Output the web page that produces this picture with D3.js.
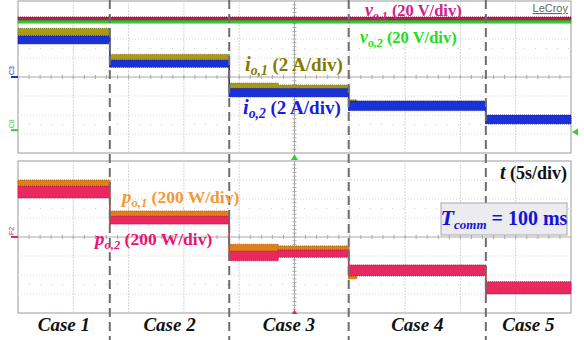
<!DOCTYPE html>
<html>
<head>
<meta charset="utf-8">
<script src="https://cdn.jsdelivr.net/npm/d3@7"></script>
<style>
  body { margin: 0; background: #fff; }
  svg { display: block; }
</style>
</head>
<body>
<svg id="chart" width="584" height="340"></svg>
<script>
// time in seconds (5 s/div, 10 div), levels in screen divisions from the centre line
const caseNames = ["Case 1", "Case 2", "Case 3", "Case 4", "Case 5"];
const caseEdges = [0, 8.3, 19.1, 29.9, 42.3, 50];

// each step: [start time, band low, band high]
const vo1 = [[0, 2.97, 3.16]];
const vo2 = [[0, 2.83, 2.96]];
const io1 = [[0, 2.16, 2.56], [8.3, 0.86, 1.19], [19.1, -0.63, -0.32], [23.5, -0.6, -0.42], [29.9, -1.7, -1.2], [30.6, -1.5, -1.35], [42.3, -2.35, -2.1]];
const io2 = [[0, 1.74, 2.16], [8.3, 0.51, 0.89], [19.1, -1.05, -0.6], [29.9, -1.77, -1.26], [42.3, -2.47, -2.0]];
const po1 = [[0, 2.62, 3.0], [8.3, 1.07, 1.37], [19.1, -0.77, -0.38], [23.5, -0.77, -0.47], [29.9, -2.2, -1.5], [30.6, -1.9, -1.55], [42.3, -2.8, -2.45]];
const po2 = [[0, 2.05, 2.68], [8.3, 0.68, 1.1], [19.1, -1.25, -0.74], [23.5, -1.07, -0.68], [29.9, -2.05, -1.47], [42.3, -3.0, -2.35]];

const SERIF = '"Liberation Serif", "Times New Roman", serif';
const SANS = '"Liberation Sans", Arial, sans-serif';

const svg = d3.select("#chart");
const x = d3.scaleLinear().domain([0, 50]).range([18, 571]);
const yTop = d3.scaleLinear().domain([-4, 4]).range([153, 1]);
const yBot = d3.scaleLinear().domain([-4, 4]).range([313, 161]);

function drawPanel(y) {
  const g = svg.append("g");
  g.append("rect")
    .attr("x", x(0)).attr("y", y(4))
    .attr("width", x(50) - x(0)).attr("height", y(-4) - y(4))
    .attr("fill", "#fff").attr("stroke", "#9a9a9a");

  // grid
  g.selectAll(".vg").data(d3.range(5, 50, 5)).enter().append("line")
    .attr("x1", d => x(d)).attr("x2", d => x(d))
    .attr("y1", y(4)).attr("y2", y(-4))
    .attr("stroke", d => d === 25 ? "#aaa" : "#d4d4d4")
    .attr("stroke-dasharray", d => d === 25 ? null : "2,1");
  g.selectAll(".hg").data(d3.range(-3, 4)).enter().append("line")
    .attr("x1", x(0)).attr("x2", x(50))
    .attr("y1", d => y(d)).attr("y2", d => y(d))
    .attr("stroke", d => d === 0 ? "#aaa" : "#d4d4d4")
    .attr("stroke-dasharray", d => d === 0 ? null : "1,2");
  // minor ticks on centre lines
  g.selectAll(".mt").data(d3.range(1, 50, 1)).enter().append("line")
    .attr("x1", d => x(d)).attr("x2", d => x(d))
    .attr("y1", y(0) - 2).attr("y2", y(0) + 2)
    .attr("stroke", "#aaa");
  g.selectAll(".mv").data(d3.range(-3.8, 4, 0.2)).enter().append("line")
    .attr("x1", x(25) - 2).attr("x2", x(25) + 2)
    .attr("y1", d => y(d)).attr("y2", d => y(d))
    .attr("stroke", "#aaa");
  // dotted sub-rows
  g.selectAll(".dr").data([-2.5, 1.5]).enter().append("line")
    .attr("x1", x(0)).attr("x2", x(50))
    .attr("y1", d => y(d)).attr("y2", d => y(d))
    .attr("stroke", "#ccc").attr("stroke-dasharray", "1,10");
}

drawPanel(yTop);
drawPanel(yBot);

function drawBand(data, y, fill, edge) {
  const steps = data.map((d, i) => ({
    t0: d[0], t1: i + 1 < data.length ? data[i + 1][0] : 50, lo: d[1], hi: d[2]
  }));
  const g = svg.append("g");
  g.selectAll("rect").data(steps).enter().append("rect")
    .attr("x", d => x(d.t0)).attr("width", d => x(d.t1) - x(d.t0))
    .attr("y", d => y(d.hi)).attr("height", d => y(d.lo) - y(d.hi))
    .attr("fill", fill);
  g.selectAll(".e").data(steps).enter().append("rect")
    .attr("x", d => x(d.t0)).attr("width", d => x(d.t1) - x(d.t0))
    .attr("y", d => y(d.hi)).attr("height", d => y(d.lo) - y(d.hi))
    .attr("fill", "none").attr("stroke", edge).attr("stroke-width", 0.8)
    .attr("stroke-dasharray", "1,1");
  // vertical transitions
  g.selectAll(".s").data(steps.slice(1)).enter().append("line")
    .attr("x1", d => x(d.t0)).attr("x2", d => x(d.t0))
    .attr("y1", (d, i) => y(Math.max(d.hi, steps[i].hi)))
    .attr("y2", (d, i) => y(Math.min(d.lo, steps[i].lo)))
    .attr("stroke", fill).attr("stroke-width", 1.5);
}

drawBand(vo1, yTop, "#b0204c", "#70102c");
drawBand(vo2, yTop, "#2fd02f", "#18a018");
drawBand(io1, yTop, "#a89a18", "#6e6508");
drawBand(io2, yTop, "#1a30d8", "#0a1890");
drawBand(po1, yBot, "#e0801a", "#9a5010");
drawBand(po2, yBot, "#e8285e", "#a01040");

// case separators
svg.append("g").selectAll("line").data(caseEdges.slice(1, -1)).enter().append("line")
  .attr("x1", d => x(d)).attr("x2", d => x(d))
  .attr("y1", 0).attr("y2", 340)
  .attr("stroke", "#6e6e6e").attr("stroke-width", 2)
  .attr("stroke-dasharray", "9,5");

// case labels
svg.append("g").selectAll("text").data(caseNames).enter().append("text")
  .attr("x", (d, i) => (x(caseEdges[i]) + x(caseEdges[i + 1])) / 2)
  .attr("y", 331)
  .attr("text-anchor", "middle")
  .style("font-family", SERIF).attr("font-weight", "bold")
  .attr("font-size", 19).attr("font-style", "italic")
  .attr("fill", "#111")
  .text(d => d);

function label(px, py, sym, sub, rest, color, size) {
  const t = svg.append("text").attr("x", px).attr("y", py)
    .style("font-family", SERIF).attr("font-weight", "bold")
    .attr("font-size", size).attr("fill", color);
  t.append("tspan").attr("font-style", "italic").attr("font-size", size * 1.08).text(sym);
  t.append("tspan").attr("font-style", "italic").attr("font-size", size * 0.72).attr("dy", 4).text(sub);
  t.append("tspan").attr("dy", -4).text(rest);
  return t;
}

label(365, 16, "v", "o,1", " (20 V/div)", "#d0208c", 16.5);
label(360, 43, "v", "o,2", " (20 V/div)", "#22dd22", 16.5);
label(245, 71, "i", "o,1", " (2 A/div)", "#857a00", 19);
label(243, 114, "i", "o,2", " (2 A/div)", "#1a1ae0", 19);
label(122, 203, "p", "o,1", " (200 W/div)", "#f29a3a", 17.5);
label(95, 245, "p", "o,2", " (200 W/div)", "#ea1272", 17.5);

const tl = svg.append("text").attr("x", 567).attr("y", 179)
  .style("font-family", SERIF).attr("font-weight", "bold")
  .attr("text-anchor", "end").attr("font-size", 18).attr("fill", "#111");
tl.append("tspan").attr("font-style", "italic").attr("font-size", 20).text("t");
tl.append("tspan").text(" (5s/div)");

// T_comm box
svg.append("rect").attr("x", 441).attr("y", 203).attr("width", 126).attr("height", 32)
  .attr("fill", "#ebebf0").attr("stroke", "#a8a8a8");
const tc = svg.append("text").attr("x", 504).attr("y", 225)
  .attr("text-anchor", "middle")
  .style("font-family", SERIF).attr("font-weight", "bold")
  .attr("font-size", 20).attr("fill", "#1414d8");
tc.append("tspan").attr("font-style", "italic").attr("font-size", 22).text("T");
tc.append("tspan").attr("font-style", "italic").attr("font-size", 13).attr("dy", 4).text("comm");
tc.append("tspan").attr("dy", -4).text(" = 100 ms");

// LeCroy badge
svg.append("text").attr("x", 568).attr("y", 12).attr("text-anchor", "end")
  .style("font-family", SANS)
  .attr("font-size", 11).attr("fill", "#666")
  .attr("text-decoration", "underline").text("LeCroy");

// channel markers
function chMark(py, txt, color) {
  svg.append("text").attr("transform", `translate(14,${py - 2}) rotate(-90)`)
    .attr("font-size", 7).style("font-family", SANS)
    .attr("fill", color).text(txt);
  svg.append("line").attr("x1", 11).attr("x2", 18).attr("y1", py).attr("y2", py)
    .attr("stroke", color).attr("stroke-width", 2);
}
chMark(yTop(0), "C3", "#1a30d8");
chMark(yTop(-2.8), "C8", "#2fd02f");
chMark(yBot(0), "F2", "#e8285e");

// trigger arrows
svg.append("path").attr("d", `M${x(50) + 1},${yTop(-2.9)} l6,-3.5 v7 z`).attr("fill", "#2fd02f");
svg.append("path").attr("d", `M${x(25)},${yTop(-4) + 1} l-3.5,6 h7 z`).attr("fill", "#2fd02f");
svg.append("path").attr("d", `M${x(25)},${yBot(-4) - 3} l-3,4 h6 z`).attr("fill", "#e8285e");
</script>
</body>
</html>
